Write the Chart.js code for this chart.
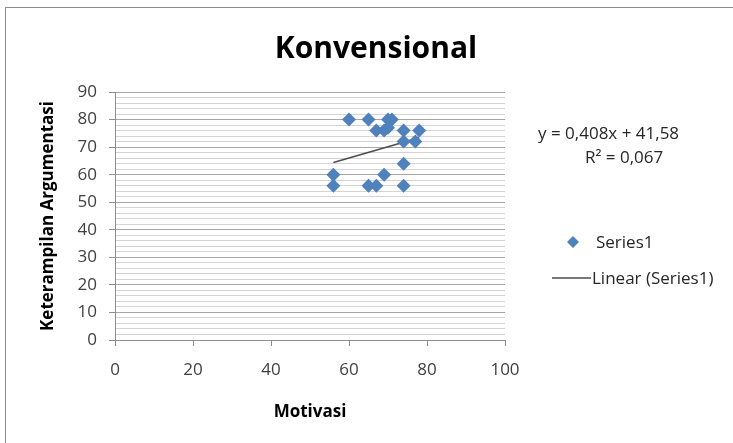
<!DOCTYPE html>
<html lang="en">
<head>
    <meta charset="UTF-8">
    <title>Konvensional</title>
    <script src="https://cdn.jsdelivr.net/npm/chart.js@4.4.1/dist/chart.umd.min.js"></script>
    <style>
        body { margin: 0; background: #fff; }
        .wrap { position: relative; width: 733px; height: 443px; overflow: hidden; }
        .frame { position: absolute; left: 5px; top: 7px; width: 760px; height: 470px; border: 1px solid #8c8c8c; }
        canvas { position: absolute; left: 0; top: 0; }
    </style>
</head>
<body>
    <div class="wrap">
        <div class="frame"></div>
        <canvas id="myChart" width="733" height="443"></canvas>
    </div>

    <script>
      // values
      const motivasi = [60, 65, 70, 71, 67, 69, 70, 74, 78, 74, 77, 74, 56, 56, 69, 65, 67, 74];
      const argumentasi = [80, 80, 80, 80, 76, 76, 77, 76, 76, 72, 72, 64, 60, 56, 60, 56, 56, 56];
      // trendline ends as drawn
      const trendX = [56, 78];
      const trendY = [64.4, 73.4];
      const xTicks = [0, 20, 40, 60, 80, 100];
      const yTicks = [0, 10, 20, 30, 40, 50, 60, 70, 80, 90];
      const equationText = 'y = 0,408x + 41,58';
      const r2Text = 'R\u00b2 = 0,067';

      const FONT = '"Open Sans", "Noto Sans", sans-serif';
      const blue = '#4F81BD';
      const trendColor = '#4d4d4d';

      // draws title, equation and the legend on the right
      const extras = {
        id: 'extras',
        afterDraw(chart) {
          const c = chart.ctx;
          c.save();
          c.fillStyle = '#000';
          c.textAlign = 'center';
          c.textBaseline = 'middle';
          c.font = 'bold 30px ' + FONT;
          c.fillText('Konvensional', 376, 49);

          c.fillStyle = '#262626';
          c.font = '17px ' + FONT;
          c.textAlign = 'left';
          c.fillText(equationText, 538, 134);
          c.fillText(r2Text, 585, 158);

          // legend
          c.fillStyle = blue;
          c.beginPath();
          c.moveTo(573, 236); c.lineTo(579, 242); c.lineTo(573, 248); c.lineTo(567, 242);
          c.closePath();
          c.fill();
          c.fillStyle = '#262626';
          c.fillText('Series1', 596, 243);

          c.strokeStyle = trendColor;
          c.lineWidth = 1.5;
          c.beginPath();
          c.moveTo(552, 278); c.lineTo(591, 278);
          c.stroke();
          c.fillText('Linear (Series1)', 592, 279);
          c.restore();
        }
      };

      const chartContext = document.getElementById('myChart').getContext('2d');
      const myChartInstance = new Chart(chartContext, {
        type: 'scatter',
        data: {
          datasets: [
            {
              label: 'Series1',
              data: motivasi.map((x, i) => ({ x: x, y: argumentasi[i] })),
              pointStyle: 'rectRot',
              pointRadius: 7,
              backgroundColor: blue,
              borderColor: blue,
              borderWidth: 0
            },
            {
              label: 'Linear (Series1)',
              type: 'line',
              data: trendX.map((x, i) => ({ x: x, y: trendY[i] })),
              borderColor: trendColor,
              borderWidth: 1.5,
              pointRadius: 0,
              fill: false
            }
          ]
        },
        options: {
          responsive: false,
          animation: false,
          events: [],
          layout: { padding: { top: 92, right: 228, bottom: 0, left: 0 } },
          plugins: { legend: { display: false }, tooltip: { enabled: false } },
          scales: {
            x: {
              type: 'linear',
              min: 0,
              max: 100,
              afterBuildTicks: s => { s.ticks = xTicks.map(v => ({ value: v })); },
              afterFit: s => { s.height = 103; },
              grid: { drawOnChartArea: false, drawTicks: true, tickLength: 6, color: '#8c8c8c' },
              border: { color: '#8c8c8c' },
              ticks: { color: '#404040', font: { family: FONT, size: 17 }, padding: 14, maxRotation: 0 },
              title: { display: true, text: 'Motivasi', color: '#000', font: { family: FONT, size: 17, weight: 'bold' }, padding: { top: 0, bottom: 21 } }
            },
            y: {
              min: 0,
              max: 90,
              afterFit: s => { s.width = 115; },
              ticks: {
                stepSize: 2,
                autoSkip: false,
                color: '#404040',
                font: { family: FONT, size: 17 },
                padding: 12,
                callback: v => (yTicks.includes(v) ? v : '')
              },
              grid: {
                tickLength: 6,
                color: ctx => (ctx.tick && ctx.tick.value % 10 === 0 ? '#a6a6a6' : '#d4d4d4'),
                tickColor: ctx => (ctx.tick && ctx.tick.value % 10 === 0 ? '#8c8c8c' : 'rgba(0,0,0,0)')
              },
              border: { color: '#8c8c8c' },
              title: { display: true, text: 'Keterampilan Argumentasi', color: '#000', font: { family: FONT, size: 17, weight: 'bold' }, padding: { top: 38, bottom: 0 } }
            }
          }
        },
        plugins: [extras]
      });
    </script>
</body>
</html>
